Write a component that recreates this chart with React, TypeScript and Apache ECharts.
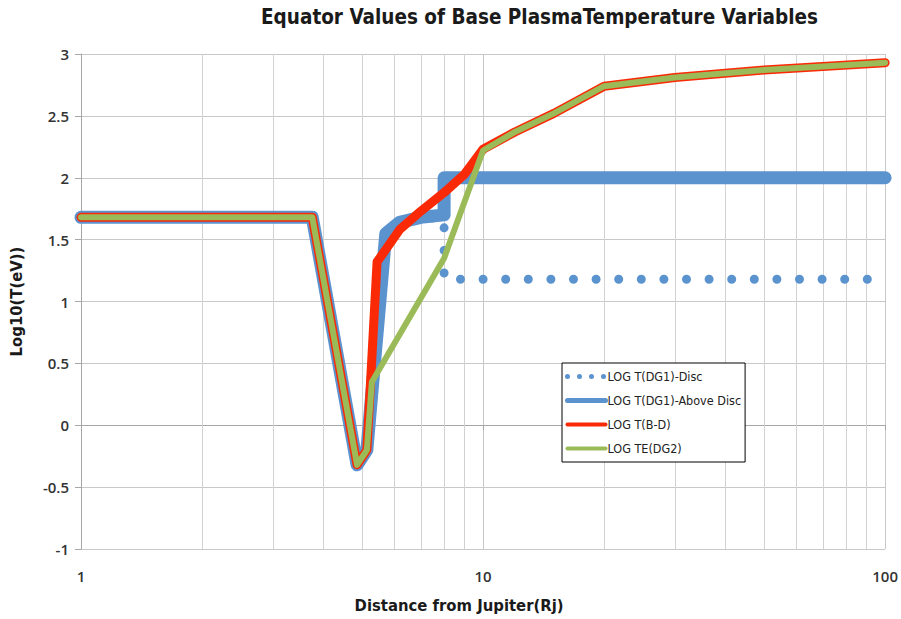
import React, { useEffect, useRef } from "react";
import * as echarts from "echarts";

const titleText = "Equator Values of Base PlasmaTemperature Variables";
const xAxisName = "Distance from Jupiter(Rj)";
const yAxisName = "Log10(T(eV))";

const seriesNames = [
  "LOG T(DG1)-Disc",
  "LOG T(DG1)-Above Disc",
  "LOG T(B-D)",
  "LOG TE(DG2)",
];

// LOG T(DG1)-Disc
const discX = [1, 3.76, 4.86, 5.14, 5.73, 6.2, 7, 8, 8, 10, 20, 60, 100];
const discY = [1.68, 1.68, -0.32, -0.2, 1.55, 1.64, 1.67, 1.68, 1.18, 1.18, 1.18, 1.18, 1.18];

// LOG T(DG1)-Above Disc
const aboveX = [1, 3.76, 4.86, 5.14, 5.73, 6.2, 7, 8, 8, 100];
const aboveY = [1.68, 1.68, -0.32, -0.2, 1.55, 1.64, 1.68, 1.7, 2.0, 2.0];

// LOG T(B-D)
const bdX = [1, 3.76, 4.86, 5.14, 5.45, 6.2, 7, 8, 9, 10, 12, 15, 20, 30, 50, 100];
const bdY = [1.68, 1.68, -0.32, -0.2, 1.32, 1.58, 1.73, 1.88, 2.03, 2.23, 2.37, 2.52, 2.74, 2.81, 2.87, 2.93];

// LOG TE(DG2)
const dg2X = [1, 3.76, 4.86, 5.14, 5.29, 8, 10, 12, 15, 20, 30, 50, 100];
const dg2Y = [1.68, 1.68, -0.32, -0.2, 0.35, 1.35, 2.22, 2.37, 2.52, 2.74, 2.81, 2.87, 2.93];

const minorGridX = [2, 3, 4, 5, 6, 7, 8, 9, 20, 30, 40, 50, 60, 70, 80, 90];

const zip = (xs: number[], ys: number[]) => xs.map((x, i) => [x, ys[i]]);

const BLUE = "#5b93cf";
const RED = "#fa2a06";
const GREEN = "#9bbb59";
const COND = "'DejaVu Sans Condensed', 'DejaVu Sans', sans-serif";
const LABEL_FONT = "'Open Sans', 'DejaVu Sans', sans-serif";

export default function App() {
  const ref = useRef<HTMLDivElement>(null);
  useEffect(() => {
    if (!ref.current) return;
    const chart = echarts.init(ref.current, undefined, { renderer: "svg" });
    chart.setOption({
      animation: false,
      backgroundColor: "#ffffff",
      title: {
        text: titleText,
        left: 256,
        top: 1,
        textStyle: {
          fontFamily: COND,
          fontWeight: "bold",
          fontSize: 20.5,
          color: "#1a1a1a",
        },
      },
      grid: { left: 81, right: 13, top: 54, bottom: 70, containLabel: false },
      legend: {
        orient: "vertical",
        left: 562,
        top: 363,
        backgroundColor: "#ffffff",
        borderColor: "#000000",
        borderWidth: 1,
        borderRadius: 0,
        padding: [7, 4, 7, 3],
        itemWidth: 38,
        itemHeight: 14,
        itemGap: 11,
        itemStyle: { opacity: 0, borderWidth: 0 },
        textStyle: {
          fontFamily: COND,
          fontSize: 12.5,
          color: "#222",
          padding: [0, 0, 0, -3],
        },
        data: [
          { name: seriesNames[0], itemStyle: { opacity: 0 }, lineStyle: { width: 5, type: [0, 12], cap: "round", color: BLUE } },
          { name: seriesNames[1], itemStyle: { opacity: 0 }, lineStyle: { width: 5, color: BLUE, cap: "round" } },
          { name: seriesNames[2], itemStyle: { opacity: 0 }, lineStyle: { width: 4, color: RED, cap: "round" } },
          { name: seriesNames[3], itemStyle: { opacity: 0 }, lineStyle: { width: 4, color: GREEN, cap: "round" } },
        ],
      },
      xAxis: {
        type: "log",
        logBase: 10,
        min: 1,
        max: 100,
        name: xAxisName,
        nameLocation: "middle",
        nameGap: 48,
        nameTextStyle: {
          fontFamily: COND,
          fontWeight: "bold",
          fontSize: 16.5,
          color: "#1a1a1a",
          padding: [0, 48, 0, 0],
        },
        axisLine: { show: true, lineStyle: { color: "#a6a6a6", width: 1 } },
        axisTick: { show: true, length: 5, lineStyle: { color: "#a6a6a6" } },
        axisLabel: { margin: 19, fontFamily: LABEL_FONT, fontWeight: 600, fontSize: 15, color: "#333" },
        splitLine: { show: true, lineStyle: { color: "#c8c8c8", width: 1 } },
      },
      yAxis: {
        type: "value",
        min: -1,
        max: 3,
        interval: 0.5,
        name: yAxisName,
        nameLocation: "middle",
        nameGap: 56,
        nameTextStyle: {
          fontFamily: COND,
          fontWeight: "bold",
          fontSize: 16.5,
          color: "#1a1a1a",
        },
        axisLine: { show: true, lineStyle: { color: "#a6a6a6", width: 1 } },
        axisTick: { show: true, length: 6, lineStyle: { color: "#a6a6a6" } },
        axisLabel: { margin: 12, fontFamily: LABEL_FONT, fontWeight: 600, fontSize: 15, color: "#333" },
        splitLine: { show: true, lineStyle: { color: "#c8c8c8", width: 1 } },
      },
      series: [
        {
          name: "minor-grid",
          type: "line",
          data: [],
          z: 1,
          silent: true,
          markLine: {
            silent: true,
            z: 1,
            symbol: ["none", "none"],
            label: { show: false },
            emphasis: { disabled: true },
            lineStyle: { color: "#d2d2d2", width: 1, type: "solid" },
            data: minorGridX.map((v) => ({ xAxis: v })),
          },
        },
        {
          name: seriesNames[0],
          type: "line",
          data: zip(discX, discY),
          showSymbol: false,
          symbol: "none",
          z: 2,
          lineStyle: { color: BLUE, width: 9, type: [0, 22.6], cap: "round", join: "round" },
          itemStyle: { color: BLUE },
        },
        {
          name: seriesNames[1],
          type: "line",
          data: zip(aboveX, aboveY),
          showSymbol: false,
          symbol: "none",
          z: 3,
          lineStyle: { color: BLUE, width: 13, cap: "round", join: "round" },
          itemStyle: { color: BLUE },
        },
        {
          name: seriesNames[2],
          type: "line",
          data: zip(bdX, bdY),
          showSymbol: false,
          symbol: "none",
          z: 4,
          lineStyle: { color: RED, width: 9, cap: "round", join: "round" },
          itemStyle: { color: RED },
        },
        {
          name: seriesNames[3],
          type: "line",
          data: zip(dg2X, dg2Y),
          showSymbol: false,
          symbol: "none",
          z: 5,
          lineStyle: { color: GREEN, width: 6, cap: "round", join: "round" },
          itemStyle: { color: GREEN },
        },
      ],
    });
    return () => chart.dispose();
  }, []);
  return (
    <div
      ref={ref}
      style={{ position: "absolute", left: 0, top: 0, width: 901, height: 619 }}
    />
  );
}
